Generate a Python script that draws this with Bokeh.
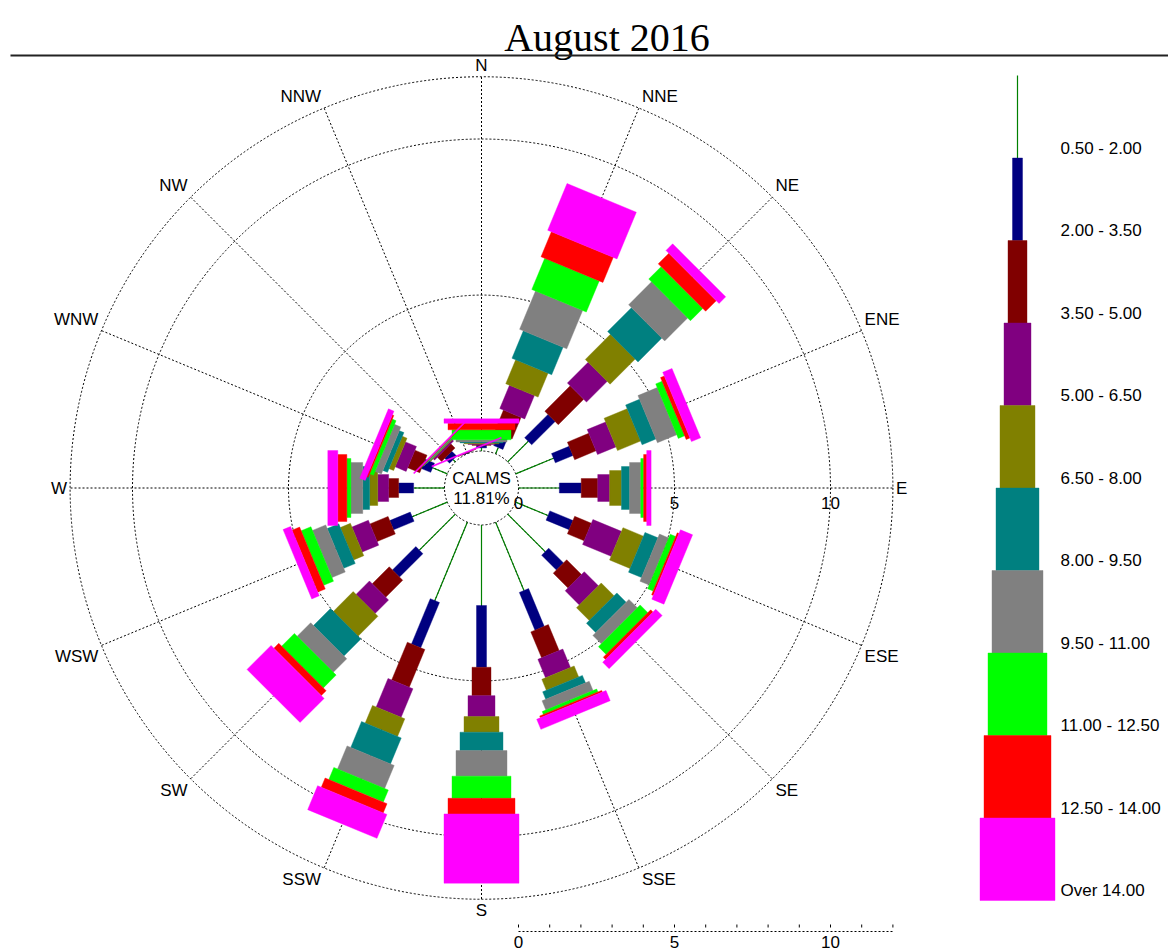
import numpy as np
from bokeh.plotting import figure
from bokeh.models import Range1d
from bokeh.embed import file_html
from bokeh.resources import INLINE
from bokeh.core.properties import value

# ---------------- data ----------------
title_text = "August 2016"
directions = ["N", "NNE", "NE", "ENE", "E", "ESE", "SE", "SSE",
              "S", "SSW", "SW", "WSW", "W", "WNW", "NW", "NNW"]
speed_classes = ["0.50 - 2.00", "2.00 - 3.50", "3.50 - 5.00", "5.00 - 6.50",
                 "6.50 - 8.00", "8.00 - 9.50", "9.50 - 11.00", "11.00 - 12.50",
                 "12.50 - 14.00", "Over 14.00"]
calms_pct = 11.81
# frequency (%) per direction for each wind-speed class
freq_050_200 = [0.10, 0.22, 0.93, 1.31, 1.31, 1.12, 1.70, 2.37, 2.58, 2.72, 1.63, 1.22, 0.99, 0.51, 0.10, 0.02]
freq_200_350 = [0.08, 0.42, 1.06, 0.61, 0.70, 0.80, 0.67, 1.31, 1.98, 1.57, 1.06, 0.71, 0.48, 0.32, 0.22, 0.01]
freq_350_500 = [0.03, 0.75, 1.15, 0.74, 0.53, 0.58, 0.67, 0.90, 0.91, 1.31, 0.77, 0.63, 0.32, 0.42, 0.19, 0.01]
freq_500_650 = [0.02, 0.81, 0.94, 0.64, 0.38, 0.99, 0.64, 0.64, 0.67, 0.99, 0.61, 0.57, 0.35, 0.38, 0.06, 0.00]
freq_650_800 = [0.03, 0.83, 1.14, 0.80, 0.38, 0.71, 0.58, 0.38, 0.50, 0.61, 0.90, 0.35, 0.26, 0.16, 0.03, 0.00]
freq_800_950 = [0.03, 0.95, 1.08, 0.48, 0.26, 0.45, 0.42, 0.26, 0.59, 0.90, 0.77, 0.40, 0.22, 0.16, 0.02, 0.00]
freq_950_1100 = [0.07, 1.33, 1.04, 0.67, 0.36, 0.32, 0.38, 0.32, 0.82, 0.80, 0.61, 0.46, 0.38, 0.22, 0.02, 0.00]
freq_1100_1250 = [0.32, 1.08, 0.56, 0.22, 0.09, 0.19, 0.35, 0.10, 0.71, 0.42, 0.58, 0.34, 0.13, 0.13, 0.01, 0.00]
freq_1250_1400 = [0.21, 0.87, 0.48, 0.13, 0.10, 0.06, 0.10, 0.06, 0.50, 0.32, 0.22, 0.26, 0.29, 0.05, 0.01, 0.00]
freq_over_1400 = [0.14, 1.62, 0.30, 0.32, 0.14, 0.42, 0.29, 0.35, 2.22, 0.83, 1.09, 0.26, 0.32, 0.19, 0.04, 0.04]
ring_values = [5, 10, 12]
scale_labels = [0, 5, 10]
scale_max = 12

series = [freq_050_200, freq_200_350, freq_350_500, freq_500_650, freq_650_800,
          freq_800_950, freq_950_1100, freq_1100_1250, freq_1250_1400, freq_over_1400]

# ---------------- style ----------------
colors = ["#008000", "#000080", "#800000", "#800080", "#808000",
          "#008080", "#808080", "#00FF00", "#FF0000", "#FF00FF"]
bar_px = [1, 10, 19, 27, 35, 43, 51, 59, 67, 75]   # petal widths in pixels
SANS = "Liberation Sans"
SERIF = "Liberation Serif"
FS = "17px"

W, H = 1168, 951
S = 31.2                 # pixels per percent
CX, CY = 481.0, 487.5    # centre of rose on the canvas (px)
R0 = 37.0 / S            # calm circle radius (data units)


def X(px):
    return (px - CX) / S


def Y(py):
    return -(py - CY) / S


p = figure(width=W, height=H, output_backend="svg", toolbar_location=None,
           x_range=Range1d(-CX / S, (W - CX) / S),
           y_range=Range1d(-(H - CY) / S, CY / S),
           x_axis_type=None, y_axis_type=None, min_border=0)
p.grid.visible = False
p.outline_line_color = None
p.background_fill_color = "white"
p.border_fill_color = "white"

# title and rule
p.text(x=[X(606.5)], y=[Y(37)], text=[title_text], text_font=value(SERIF),
       text_font_size="40px", text_align="center", text_baseline="alphabetic",
       text_color="black")
p.segment(x0=[X(10)], y0=[Y(55)], x1=[X(1168)], y1=[Y(55)],
          line_color="#222222", line_width=2)

# grid rings and calm circle
p.circle(x=[0] * (len(ring_values) + 1), y=[0] * (len(ring_values) + 1),
         radius=[R0] + [R0 + v for v in ring_values], fill_color=None,
         line_color="black", line_width=1, line_dash="2 2")

theta = np.deg2rad(np.arange(16) * 22.5)
ux, uy = np.sin(theta), np.cos(theta)
r_out = R0 + ring_values[-1]
p.segment(x0=R0 * ux, y0=R0 * uy, x1=r_out * ux, y1=r_out * uy,
          line_color="black", line_width=1, line_dash="2 2")

# direction labels just outside the outer ring
for i, name in enumerate(directions):
    ax, ay = ux[i], uy[i]
    align = "left" if ax > 0.01 else ("right" if ax < -0.01 else "center")
    base = "bottom" if ay > 0.01 else ("top" if ay < -0.01 else "middle")
    xo = 3 if ax > 0.01 else (-3 if ax < -0.01 else 0)
    yo = -2 if ay > 0.01 else (2 if ay < -0.01 else 0)
    p.text(x=[r_out * ax], y=[r_out * ay], text=[name], text_font=value(SANS),
           text_font_size=FS, text_align=align, text_baseline=base,
           x_offset=xo, y_offset=yo, text_color="black")

# petals
cum = np.full(16, R0)
xs, ys, fc = [], [], []
for k, vals in enumerate(series):
    v = np.array(vals, dtype=float)
    r0, r1 = cum.copy(), cum + v
    if k == 0:
        m = v > 0
        p.segment(x0=r0[m] * ux[m], y0=r0[m] * uy[m], x1=r1[m] * ux[m], y1=r1[m] * uy[m],
                  line_color=colors[0], line_width=1.2)
    else:
        hw = bar_px[k] / 2.0 / S
        for i in range(16):
            if v[i] <= 0:
                continue
            vx, vy = np.cos(theta[i]), -np.sin(theta[i])
            px_ = [r0[i] * ux[i] + hw * vx, r1[i] * ux[i] + hw * vx,
                   r1[i] * ux[i] - hw * vx, r0[i] * ux[i] - hw * vx]
            py_ = [r0[i] * uy[i] + hw * vy, r1[i] * uy[i] + hw * vy,
                   r1[i] * uy[i] - hw * vy, r0[i] * uy[i] - hw * vy]
            xs.append(px_)
            ys.append(py_)
            fc.append(colors[k])
    cum = r1
p.patches(xs=xs, ys=ys, fill_color=fc, line_color=fc, line_width=0.4)

# calm text
p.text(x=[0, 0], y=[Y(478), Y(497.5)], text=["CALMS", f"{calms_pct:.2f}%"],
       text_font=value(SANS), text_font_size=FS, text_align="center",
       text_baseline="middle", text_color="black")

# radial scale labels along east axis
p.text(x=[R0 + v for v in scale_labels], y=[Y(502.5)] * len(scale_labels),
       text=[str(v) for v in scale_labels], text_font=value(SANS),
       text_font_size=FS, text_align="center", text_baseline="middle",
       text_color="black")

# bottom scale bar
ticks = np.arange(0, scale_max + 1)
p.segment(x0=[R0], y0=[Y(931)], x1=[R0 + scale_max], y1=[Y(931)],
          line_color="black", line_width=1, line_dash="2 2")
p.segment(x0=R0 + ticks, y0=[Y(927)] * len(ticks), x1=R0 + ticks, y1=[Y(924)] * len(ticks),
          line_color="black", line_width=1)
p.text(x=[R0 + v for v in scale_labels], y=[Y(941)] * len(scale_labels),
       text=[str(v) for v in scale_labels], text_font=value(SANS),
       text_font_size=FS, text_align="center", text_baseline="middle",
       text_color="black")

# legend (stacked key)
LX = 1017.0
step = 82.5
top0 = 75.0
p.segment(x0=[X(LX)], y0=[Y(top0)], x1=[X(LX)], y1=[Y(top0 + step)],
          line_color=colors[0], line_width=1.2)
lefts, rights, tops, bottoms = [], [], [], []
for k in range(1, len(speed_classes)):
    tpx = top0 + step * k
    lefts.append(X(LX - bar_px[k] / 2))
    rights.append(X(LX + bar_px[k] / 2))
    tops.append(Y(tpx))
    bottoms.append(Y(tpx + step))
p.quad(left=lefts, right=rights, top=tops, bottom=bottoms,
       fill_color=colors[1:], line_color=colors[1:], line_width=0.4)
p.text(x=[X(1060)] * len(speed_classes),
       y=[Y(top0 + step * (j + 1) - 10) for j in range(len(speed_classes))],
       text=speed_classes, text_font=value(SANS), text_font_size=FS,
       text_align="left", text_baseline="middle", text_color="black")

open("out.html", "w").write(file_html(p, INLINE))
